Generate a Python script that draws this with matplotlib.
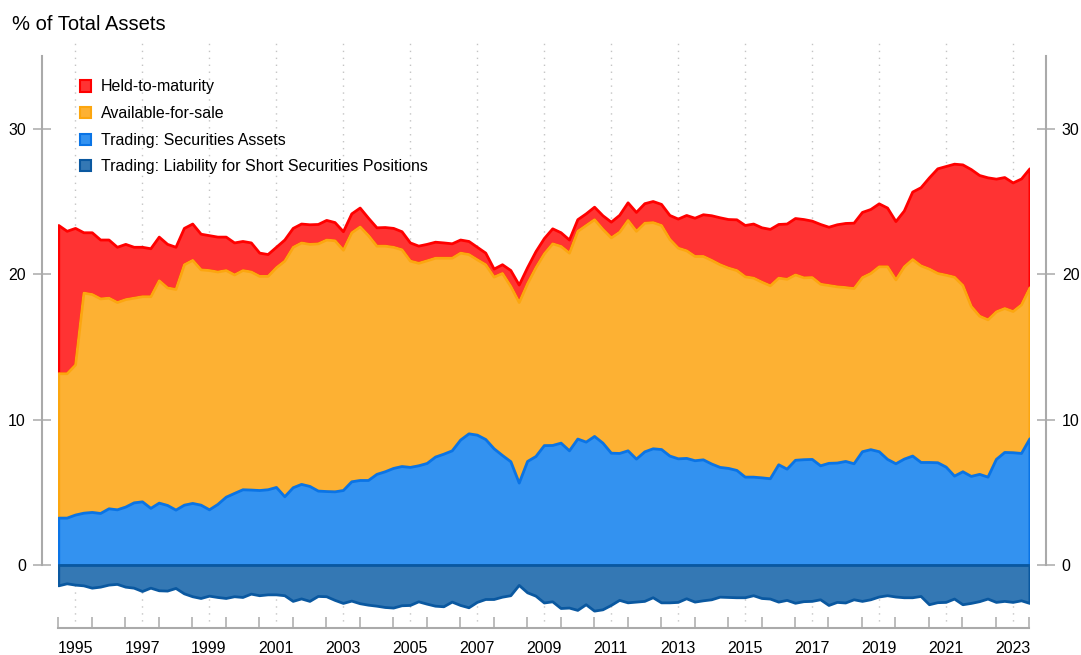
import numpy as np
import pandas as pd
import matplotlib
matplotlib.use("Agg")
import matplotlib.pyplot as plt
from matplotlib.patches import Patch

# quarterly observations, end of quarter
quarters = pd.period_range("1994Q4", "2023Q4", freq="Q")

trading = [3.26, 3.26, 3.47, 3.60, 3.65, 3.58, 3.90, 3.83, 4.02, 4.31,
           4.38, 3.93, 4.29, 4.13, 3.81, 4.15, 4.27, 4.15, 3.83, 4.20,
           4.70, 4.96, 5.21, 5.19, 5.16, 5.21, 5.37, 4.73, 5.35, 5.58,
           5.44, 5.12, 5.09, 5.07, 5.16, 5.76, 5.85, 5.85, 6.27, 6.45,
           6.68, 6.81, 6.75, 6.86, 7.02, 7.46, 7.66, 7.89, 8.63, 9.06,
           8.97, 8.67, 8.03, 7.57, 7.14, 5.67, 7.16, 7.50, 8.25, 8.26,
           8.42, 7.89, 8.70, 8.49, 8.88, 8.42, 7.73, 7.71, 7.89, 7.32,
           7.82, 8.03, 7.98, 7.53, 7.34, 7.37, 7.21, 7.27, 6.98, 6.75,
           6.68, 6.54, 6.08, 6.08, 6.03, 5.97, 6.93, 6.63, 7.24, 7.28,
           7.30, 6.86, 7.03, 7.05, 7.16, 7.00, 7.83, 7.97, 7.83, 7.30,
           7.00, 7.32, 7.53, 7.09, 7.09, 7.07, 6.77, 6.15, 6.45, 6.13,
           6.27, 6.08, 7.30, 7.78, 7.76, 7.71, 8.72]

afs = [9.94, 9.94, 10.33, 15.15, 15.00, 14.77, 14.50, 14.27, 14.28, 14.09,
       14.12, 14.57, 15.31, 14.97, 15.19, 16.55, 16.73, 16.20, 16.47, 16.00,
       15.60, 15.04, 15.09, 15.01, 14.74, 14.69, 15.13, 16.22, 16.55, 16.62,
       16.66, 17.02, 17.31, 17.28, 16.54, 17.14, 17.45, 16.85, 15.71, 15.53,
       15.22, 14.92, 14.20, 13.94, 13.95, 13.69, 13.49, 13.26, 12.87, 12.34,
       12.07, 12.03, 11.82, 12.53, 12.06, 12.43, 12.24, 13.00, 13.20, 13.88,
       13.54, 13.61, 14.30, 14.91, 14.92, 14.71, 14.82, 15.23, 15.86, 15.68,
       15.74, 15.57, 15.42, 14.91, 14.50, 14.29, 14.06, 14.00, 14.02, 13.95,
       13.79, 13.76, 13.79, 13.70, 13.47, 13.28, 12.85, 13.07, 12.76, 12.52,
       12.52, 12.50, 12.24, 12.13, 11.97, 12.06, 11.99, 12.13, 12.73, 13.26,
       12.66, 13.24, 13.53, 13.53, 13.31, 13.03, 13.21, 13.69, 12.82, 11.70,
       10.89, 10.83, 10.16, 9.91, 9.72, 10.23, 10.39]

htm = [10.20, 9.80, 9.40, 4.15, 4.25, 4.05, 4.00, 3.80, 3.80, 3.50,
       3.40, 3.30, 3.00, 3.00, 2.90, 2.50, 2.50, 2.45, 2.40, 2.40,
       2.30, 2.20, 2.00, 2.00, 1.60, 1.50, 1.40, 1.45, 1.30, 1.30,
       1.35, 1.33, 1.35, 1.25, 1.27, 1.30, 1.30, 1.20, 1.26, 1.28,
       1.30, 1.24, 1.25, 1.18, 1.13, 1.10, 1.05, 0.99, 0.90, 0.90,
       0.86, 0.80, 0.55, 0.60, 1.10, 1.20, 1.10, 1.10, 1.05, 1.03,
       0.94, 0.90, 0.80, 0.80, 0.86, 0.94, 1.08, 1.16, 1.21, 1.30,
       1.34, 1.45, 1.45, 1.65, 2.00, 2.43, 2.63, 2.87, 3.07, 3.23,
       3.34, 3.49, 3.53, 3.72, 3.74, 3.88, 3.69, 3.80, 3.88, 4.01,
       3.88, 4.11, 4.01, 4.27, 4.41, 4.50, 4.48, 4.40, 4.33, 4.04,
       4.01, 3.84, 4.64, 5.38, 6.28, 7.20, 7.48, 7.78, 8.30, 9.42,
       9.68, 9.77, 9.13, 9.01, 8.85, 8.66, 8.19]

short_liab = [-1.40, -1.26, -1.35, -1.40, -1.56, -1.49, -1.35, -1.30, -1.49, -1.56,
              -1.79, -1.56, -1.74, -1.76, -1.58, -1.95, -2.15, -2.27, -2.11, -2.20,
              -2.27, -2.15, -2.20, -1.97, -2.08, -2.02, -2.02, -2.08, -2.47, -2.30,
              -2.47, -2.13, -2.15, -2.40, -2.61, -2.45, -2.63, -2.73, -2.80, -2.89,
              -2.93, -2.77, -2.75, -2.50, -2.66, -2.80, -2.84, -2.52, -2.75, -2.91,
              -2.54, -2.34, -2.34, -2.18, -2.08, -1.37, -1.88, -2.11, -2.58, -2.50,
              -2.96, -2.93, -3.09, -2.70, -3.14, -3.05, -2.75, -2.40, -2.57, -2.52,
              -2.47, -2.22, -2.57, -2.57, -2.54, -2.29, -2.52, -2.43, -2.36, -2.18,
              -2.20, -2.22, -2.22, -2.08, -2.27, -2.31, -2.52, -2.40, -2.60, -2.49,
              -2.47, -2.36, -2.75, -2.54, -2.58, -2.36, -2.47, -2.36, -2.17, -2.08,
              -2.17, -2.22, -2.22, -2.13, -2.70, -2.56, -2.54, -2.31, -2.70, -2.61,
              -2.49, -2.31, -2.54, -2.47, -2.54, -2.43, -2.61]

labels = ["Held-to-maturity", "Available-for-sale",
          "Trading: Securities Assets",
          "Trading: Liability for Short Securities Positions"]
fills = ["#FF3333", "#FDB133", "#3392F0", "#3478B4"]
edges = ["#FF0000", "#FCA60F", "#0A74E6", "#0A58A0"]

plt.rcParams["font.family"] = ["Liberation Sans", "DejaVu Sans"]

x = quarters.year + quarters.quarter / 4
lvl1 = np.array(trading)
lvl2 = lvl1 + np.array(afs)
lvl3 = lvl2 + np.array(htm)

W, H = 1081, 655
fig = plt.figure(figsize=(W / 100, H / 100), dpi=100)
ax = fig.add_axes([58.3 / W, 1 - 628.3 / H, (1029.4 - 58.3) / W, (628.3 - 43) / H])

lw = 2
ax.fill_between(x, lvl2, lvl3, facecolor=fills[0], edgecolor=edges[0], lw=lw, zorder=2)
ax.fill_between(x, lvl1, lvl2, facecolor=fills[1], edgecolor=edges[1], lw=lw, zorder=3)
ax.fill_between(x, 0, lvl1, facecolor=fills[2], edgecolor=edges[2], lw=lw, zorder=4)
ax.fill_between(x, short_liab, 0, facecolor=fills[3], edgecolor=edges[3], lw=lw, zorder=4)

ax.set_xlim(1995, 2024)
ax.set_ylim((565 - 628.3) / 14.53, (565 - 43) / 14.53)

grey = "#AAAAAA"
ax.spines["top"].set_visible(False)
for side in ["left", "right"]:
    ax.spines[side].set_position(("outward", 12))
    ax.spines[side].set_bounds(0, 35)
    ax.spines[side].set_color(grey)
    ax.spines[side].set_linewidth(1.5)
ax.spines["bottom"].set_bounds(1995, 2024)
ax.spines["bottom"].set_color(grey)
ax.spines["bottom"].set_linewidth(1.5)

ax.set_yticks([0, 10, 20, 30])
ax.tick_params(axis="y", which="both", direction="inout", length=12.7, width=1.1,
               color=grey, left=True, right=True, labelleft=True, labelright=True,
               labelsize=11.5, pad=5)

ax.set_xticks(np.arange(1995, 2025))
ax.set_xticklabels([])
ax.set_xticks(np.arange(1995, 2024, 2) + 0.5, minor=True)
ax.set_xticklabels([str(y) for y in range(1995, 2024, 2)], minor=True)
ax.tick_params(axis="x", which="major", direction="in", length=7.7, width=1.1, color=grey)
ax.tick_params(axis="x", which="minor", length=0, labelsize=11.5, pad=9)
ax.grid(which="minor", axis="x", color="#C4C4C4", lw=1.0, linestyle=(0, (1, 4)))
ax.set_axisbelow(True)

fig.text(11.5 / W, 1 - 29.5 / H, "% of Total Assets", fontsize=14.5, va="baseline", ha="left")

handles = [Patch(facecolor=f, edgecolor=e, lw=1.5) for f, e in zip(fills, edges)]
ax.legend(handles, labels, loc="upper left", bbox_to_anchor=(80 / W, 1 - 79.5 / H),
          bbox_transform=fig.transFigure, frameon=False, fontsize=11.5,
          handlelength=0.7, handleheight=0.7, handletextpad=0.6,
          labelspacing=0.73, borderpad=0, borderaxespad=0)

fig.savefig("out.png", dpi=100)
